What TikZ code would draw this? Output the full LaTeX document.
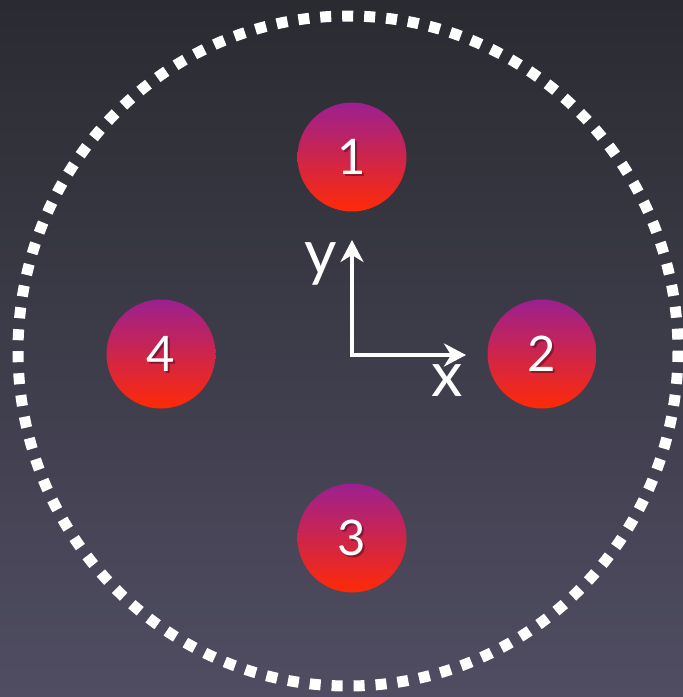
\documentclass[tikz,border=0pt]{standalone}
\usepackage{fontspec}
\setmainfont{Lato}
\usetikzlibrary{arrows.meta}
\definecolor{bgtop}{HTML}{2A2B31}
\definecolor{bgbot}{HTML}{504D62}
\definecolor{balltop}{HTML}{9C2090}
\definecolor{ballmid}{HTML}{D2234A}
\definecolor{ballbot}{HTML}{FF2A06}
\begin{document}
\begin{tikzpicture}[x=1pt,y=-1pt,
  ball/.style={circle, minimum size=109pt, inner sep=0pt,
    top color=balltop, middle color=ballmid, bottom color=ballbot},
  digit/.style={text=white, inner sep=0pt, font=\fontsize{49}{49}\selectfont},
  digitshadow/.style={text=black, opacity=0.35, inner sep=0pt, font=\fontsize{49}{49}\selectfont},
  axislabel/.style={text=white, inner sep=0pt, anchor=base, font=\fontsize{63}{63}\selectfont},
  axis/.style={white, line width=4pt, line join=miter,
    {Stealth[length=22pt,width=23pt,inset=7pt]}-{Stealth[length=22pt,width=23pt,inset=7pt]}},
  ring/.style={white, line width=11pt, dash pattern=on 11pt off 10.99pt}
]
\shade[top color=bgtop, bottom color=bgbot] (0,0) rectangle (683,697);
\useasboundingbox (0,0) rectangle (683,697);

\draw[ring] (348,351) ellipse [x radius=330, y radius=335];

\node[ball] (b1) at (352,157) {};
\node[ball] (b2) at (542,354) {};
\node[ball] (b3) at (352,538) {};
\node[ball] (b4) at (161,354) {};

\foreach \b/\t in {b1/1, b2/2, b3/3, b4/4}{
  \node[digitshadow] at ([shift={(1.5,1.5)}]\b.center) {\t};
  \node[digit] at (\b.center) {\t};
}

\coordinate (o) at (352,355);
\coordinate (ytip) at (352,240);
\coordinate (xtip) at (466,355);
\draw[axis] (ytip) -- (o) -- (xtip);

\node[axislabel] (ylab) at (321,274) {y};
\node[axislabel] (xlab) at (447,396) {x};
\end{tikzpicture}
\end{document}
